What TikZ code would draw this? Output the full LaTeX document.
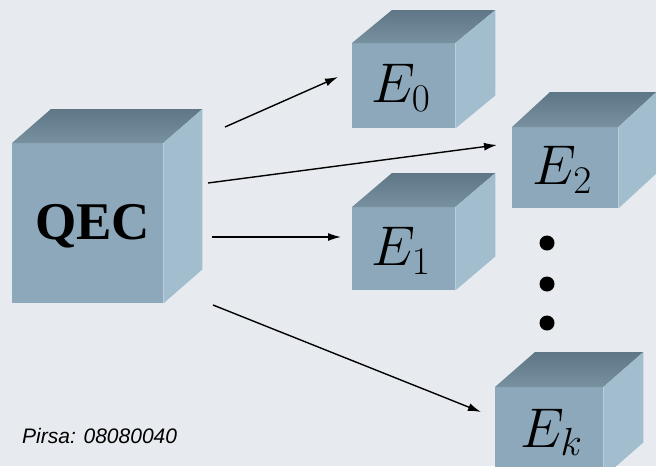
\documentclass[tikz,border=0pt]{standalone}
\usepackage{fix-cm}
\usepackage{fontspec}
\setmainfont{Liberation Serif}
\newfontfamily\labelsans{Liberation Sans}
\usetikzlibrary{arrows.meta,calc}

\definecolor{bgcol}{HTML}{E7EAEE}
\definecolor{frontcol}{HTML}{8CA8BA}
\definecolor{topback}{HTML}{5E7685}
\definecolor{topfront}{HTML}{7891A1}
\definecolor{sidecol}{HTML}{A2BECE}

\tikzset{
  cubefront/.style={fill=frontcol, inner sep=0pt, anchor=north west},
  arrowline/.style={line width=1.4pt, -{Latex[length=13pt,width=8pt]}},
  dotmark/.style={circle, fill=black, inner sep=0pt, minimum size=15pt},
}

% \cubebox{name}{x}{y}{w}{h}{dx}{dy}{label}{label shift}: front face at (x,y)
% size w x h, with top and right faces receding by (dx,-dy)
\newcommand{\cubebox}[9]{%
  \node[cubefront, minimum width=#4pt, minimum height=#5pt] (#1) at (#2,#3) {};
  \shade[top color=topback, bottom color=topfront]
    (#1.north west) -- ++(#6,-#7) -- ($(#1.north east)+(#6,-#7)$) -- (#1.north east) -- cycle;
  \fill[sidecol]
    (#1.north east) -- ++(#6,-#7) -- ($(#1.south east)+(#6,-#7)$) -- (#1.south east) -- cycle;
  \node (#1-label) at ($(#1.center)+#9$) {#8};
}

\newcommand{\elabel}[1]{\fontsize{56}{56}\selectfont$#1$}

\begin{document}
\begin{tikzpicture}[x=1pt,y=-1pt]
  \fill[bgcol] (0,0) rectangle (656,466);
  \useasboundingbox (0,0) rectangle (656,466);

  % encoder and the error blocks
  \cubebox{qec}{12}{143}{151}{160}{39}{34}{\fontsize{53}{53}\selectfont\bfseries QEC}{(5,3)}
  \cubebox{e0}{352}{43}{103}{85}{40}{33}{\elabel{E_0}}{(-3,2)}
  \cubebox{e2}{512}{127}{106}{81}{38}{35}{\elabel{E_2}}{(-3,2)}
  \cubebox{e1}{352}{207}{103}{83}{40}{34}{\elabel{E_1}}{(-3,2)}
  \cubebox{ek}{495}{387}{108}{90}{40}{35}{\elabel{E_k}}{(2,0)}

  % vertical ellipsis between E2 and Ek
  \node[dotmark] (d1) at (547,243) {};
  \node[dotmark] (d2) at (547,284) {};
  \node[dotmark] (d3) at (547,323) {};

  % arrow end points
  \coordinate (s0) at (225,127);
  \coordinate (t0) at (338,77);
  \coordinate (s2) at (208,183);
  \coordinate (t2) at (497,145);
  \coordinate (s1) at (212,237);
  \coordinate (t1) at (341,237);
  \coordinate (sk) at (213,305);
  \coordinate (tk) at (481,412);

  \draw[arrowline] (s0) -- (t0);
  \draw[arrowline] (s2) -- (t2);
  \draw[arrowline] (s1) -- (t1);
  \draw[arrowline] (sk) -- (tk);

  \node[anchor=base west, inner sep=0pt, font=\labelsans\itshape\fontsize{21}{21}\selectfont] (src) at (22,443) {Pirsa: 08080040};
\end{tikzpicture}
\end{document}
